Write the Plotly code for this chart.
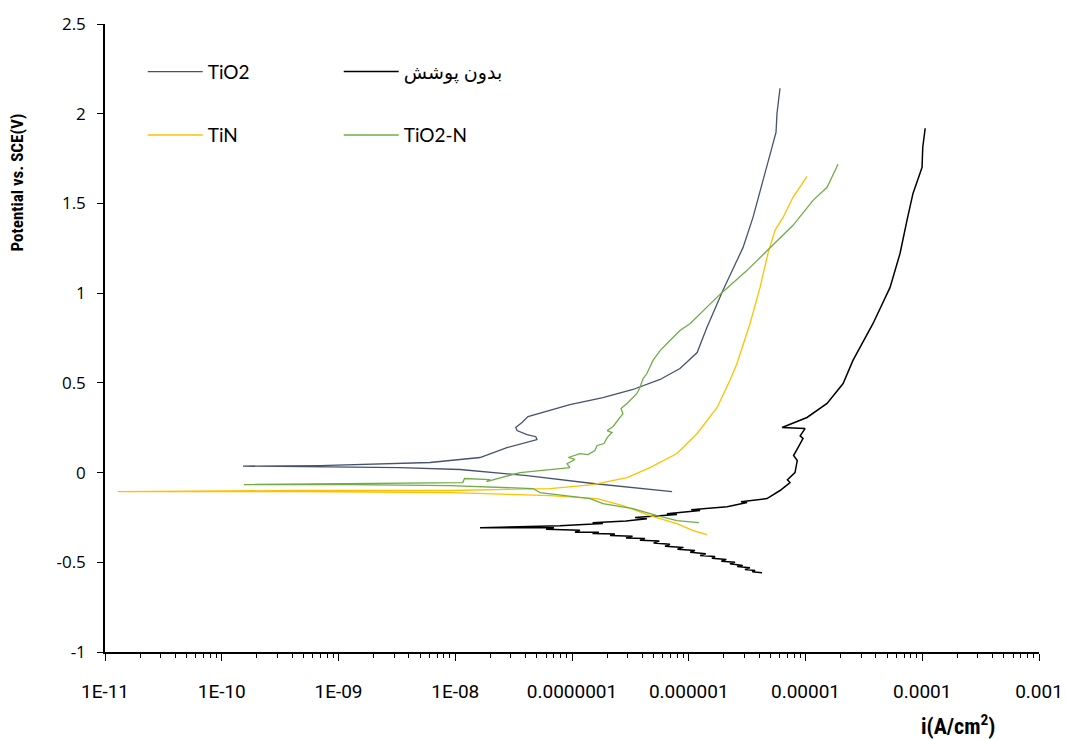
import plotly.graph_objects as go

# ---------------- data (current density A/cm2, potential V vs SCE) ----------------
tio2_i = [7.2e-7, 1.51e-7, 4.12e-8, 1.10e-8, 3.37e-9, 6.95e-10, 1.52e-10,
          6.95e-10, 6.08e-9, 1.63e-8, 2.77e-8, 5.01e-8, 4.9e-8, 4.12e-8, 3.38e-8,
          3.3e-8, 3.73e-8, 4.2e-8, 5.65e-8, 9.6e-8, 1.84e-7, 3.33e-7, 5.68e-7,
          8.41e-7, 1.18e-6, 1.43e-6, 1.96e-6, 2.92e-6, 3.55e-6, 4.24e-6, 4.96e-6,
          5.59e-6, 5.7e-6, 6.05e-6]
tio2_e = [-0.106, -0.061, -0.017, 0.017, 0.028, 0.033, 0.036,
          0.039, 0.056, 0.084, 0.139, 0.184, 0.20, 0.212, 0.234,
          0.251, 0.279, 0.312, 0.335, 0.379, 0.418, 0.463, 0.519,
          0.580, 0.669, 0.809, 1.015, 1.255, 1.422, 1.612, 1.779,
          1.896, 2.002, 2.142]

bare_i = [4.24e-6, 3.5e-6, 3.7e-6, 3.03e-6, 3.34e-6, 2.6e-6, 2.9e-6, 2.25e-6, 2.49e-6,
          1.9e-6, 2.1e-6, 1.58e-6, 1.68e-6, 1.25e-6, 1.4e-6, 1.03e-6, 1.13e-6,
          8.0e-7, 9.0e-7, 6.26e-7, 6.9e-7, 5.0e-7, 5.6e-7, 3.82e-7, 4.22e-7,
          2.9e-7, 3.3e-7, 2.12e-7, 2.33e-7, 1.5e-7, 1.7e-7, 1.06e-7, 1.17e-7,
          6.0e-8, 7.0e-8, 1.63e-8,
          7.88e-8, 1.84e-7, 1.5e-7, 2.9e-7, 4.38e-7, 3.47e-7, 7.92e-7, 6.5e-7,
          1.25e-6, 1.05e-6, 2.13e-6, 3.16e-6, 2.8e-6,
          4.68e-6, 6.05e-6, 7.37e-6, 7.0e-6, 8.13e-6, 8.5e-6, 7.9e-6, 8.63e-6,
          9.53e-6, 9.0e-6, 9.91e-6,
          6.3e-6, 1.03e-5, 1.53e-5, 2.10e-5, 2.55e-5, 3.79e-5, 5.30e-5, 6.45e-5,
          7.40e-5, 8.33e-5, 9.57e-5, 9.96e-5, 1.01e-4, 1.06e-4]
bare_e = [-0.558, -0.553, -0.546, -0.540, -0.530, -0.524, -0.518, -0.508, -0.500,
          -0.494, -0.485, -0.477, -0.468, -0.462, -0.452, -0.444, -0.434,
          -0.428, -0.417, -0.411, -0.400, -0.392, -0.382, -0.377, -0.368,
          -0.364, -0.355, -0.351, -0.343, -0.340, -0.332, -0.332, -0.322,
          -0.316, -0.308, -0.307,
          -0.296, -0.284, -0.279, -0.270, -0.257, -0.251, -0.234, -0.229,
          -0.212, -0.207, -0.190, -0.167, -0.162,
          -0.145, -0.100, -0.056, -0.040, 0.0, 0.067, 0.095, 0.139,
          0.190, 0.205, 0.245,
          0.251, 0.307, 0.385, 0.496, 0.625, 0.831, 1.032, 1.221,
          1.405, 1.556, 1.668, 1.701, 1.813, 1.919]

tin_i = [1.43e-6, 1.09e-6, 7.92e-7, 4.65e-7, 2.73e-7, 1.64e-7, 6.48e-8, 9.0e-9,
         4.68e-10, 1.29e-11,
         4.68e-10, 9.0e-9, 6.48e-8, 1.51e-7, 2.96e-7, 4.65e-7, 7.92e-7, 1.18e-6,
         1.75e-6, 2.25e-6, 2.59e-6, 3.35e-6, 4.08e-6, 4.77e-6, 5.48e-6, 6.42e-6,
         7.82e-6, 1.03e-5]
tin_e = [-0.346, -0.323, -0.284, -0.240, -0.184, -0.145, -0.128, -0.112,
         -0.106, -0.106,
         -0.100, -0.100, -0.089, -0.067, -0.028, 0.028, 0.106, 0.218,
         0.363, 0.513, 0.608, 0.831, 1.032, 1.221, 1.350, 1.422,
         1.534, 1.651]

tio2n_i = [1.22e-6, 7.92e-7, 5.35e-7, 3.33e-7, 1.84e-7, 1.43e-7, 5.32e-8, 4.63e-8,
           9.0e-9, 1.26e-9, 1.55e-10,
           1.26e-9, 1.16e-8, 1.2e-8, 1.99e-8, 1.85e-8, 3.59e-8, 9.6e-8, 9.06e-8,
           1.06e-7, 9.3e-8, 1.17e-7, 1.37e-7, 1.57e-7, 1.64e-7, 1.88e-7, 2.0e-7,
           2.20e-7, 2.0e-7, 2.25e-7, 2.73e-7, 2.63e-7, 2.96e-7, 3.6e-7, 3.82e-7,
           4.06e-7, 4.38e-7, 4.94e-7, 5.68e-7, 6.52e-7, 8.41e-7, 1.03e-6, 1.85e-6,
           3.16e-6, 4.97e-6, 7.82e-6, 1.16e-5, 1.53e-5, 1.90e-5]
tio2n_e = [-0.279, -0.268, -0.240, -0.201, -0.173, -0.145, -0.112, -0.089,
           -0.073, -0.067, -0.067,
           -0.061, -0.056, -0.033, -0.039, -0.050, 0.000, 0.028, 0.050,
           0.073, 0.084, 0.106, 0.100, 0.123, 0.151, 0.162, 0.195,
           0.223, 0.234, 0.257, 0.329, 0.357, 0.385, 0.441, 0.474,
           0.524, 0.552, 0.625, 0.680, 0.719, 0.792, 0.831, 0.993,
           1.127, 1.255, 1.378, 1.517, 1.590, 1.718]

series_names = ["TiO2", "بدون پوشش", "TiN", "TiO2-N"]
x_tickvals = [1e-11, 1e-10, 1e-9, 1e-8, 1e-7, 1e-6, 1e-5, 1e-4, 1e-3]
x_ticktext = ["1E-11", "1E-10", "1E-09", "1E-08", "0.0000001", "0.000001",
              "0.00001", "0.0001", "0.001"]
x_minor = [m * v for v in x_tickvals[:-1] for m in range(2, 10)]
y_tickvals = [-1, -0.5, 0, 0.5, 1, 1.5, 2, 2.5]
y_ticktext = ["-1", "-0.5", "0", "0.5", "1", "1.5", "2", "2.5"]

colors = ["#44546A", "#000000", "#FFC000", "#70AD47"]
legend_font = dict(family="Lato, 'Noto Sans', 'DejaVu Sans', sans-serif", size=19, color="#000")
narrow = "'Liberation Sans Narrow', 'Roboto Condensed', Roboto, sans-serif"

fig = go.Figure()
fig.add_trace(go.Scatter(x=tio2_i, y=tio2_e, mode="lines", name=series_names[0],
                         line=dict(color=colors[0], width=1.3), legend="legend"))
fig.add_trace(go.Scatter(x=bare_i, y=bare_e, mode="lines", name=series_names[1],
                         line=dict(color=colors[1], width=1.5), legend="legend"))
fig.add_trace(go.Scatter(x=tin_i, y=tin_e, mode="lines", name=series_names[2],
                         line=dict(color=colors[2], width=1.3), legend="legend2"))
fig.add_trace(go.Scatter(x=tio2n_i, y=tio2n_e, mode="lines", name=series_names[3],
                         line=dict(color=colors[3], width=1.3), legend="legend2"))

leg_common = dict(orientation="h", x=0.0404, xanchor="left", yanchor="middle",
                  entrywidth=126, entrywidthmode="pixels", itemwidth=55, font=legend_font,
                  bgcolor="rgba(0,0,0,0)", traceorder="normal")

fig.update_layout(
    width=1066, height=740,
    margin=dict(l=105, r=27, t=24, b=88, autoexpand=False),
    plot_bgcolor="white", paper_bgcolor="white",
    showlegend=True,
    legend=dict(y=0.924, **leg_common),
    legend2=dict(y=0.823, **leg_common),
    xaxis=dict(type="log", range=[-11, -3], tickmode="array", tickvals=x_tickvals,
               ticktext=x_ticktext, ticks="outside", ticklen=7, tickwidth=1,
               tickcolor="black", showline=True, linecolor="black", linewidth=1.5,
               showgrid=False, zeroline=False, ticklabelstandoff=14, automargin=False,
               tickfont=dict(family="Roboto, sans-serif", size=19, color="#000"),
               minor=dict(tickmode="array", tickvals=x_minor, ticks="outside", ticklen=4,
                          tickcolor="black", showgrid=False)),
    yaxis=dict(range=[-1, 2.5], tickmode="array", tickvals=y_tickvals, ticktext=y_ticktext,
               ticks="outside", ticklen=6, tickcolor="black", showline=True,
               linecolor="black", linewidth=1.5, showgrid=False, zeroline=False,
               ticklabelstandoff=8, automargin=False,
               tickfont=dict(family="'Open Sans', 'Noto Sans', sans-serif", size=17, color="#000")),
    annotations=[
        dict(text="<b>Potential vs. SCE(V)</b>", xref="paper", yref="paper",
             x=-0.094, y=0.748, xanchor="center", yanchor="middle", textangle=-90,
             showarrow=False, font=dict(family=narrow, size=17, color="#000")),
        dict(text="<b>i(A/cm<sup>2</sup>)</b>", xref="paper", yref="paper",
             x=0.913, y=-0.116, xanchor="center", yanchor="middle", showarrow=False,
             font=dict(family=narrow, size=22, color="#000")),
    ],
)

fig.write_html("out.html")
